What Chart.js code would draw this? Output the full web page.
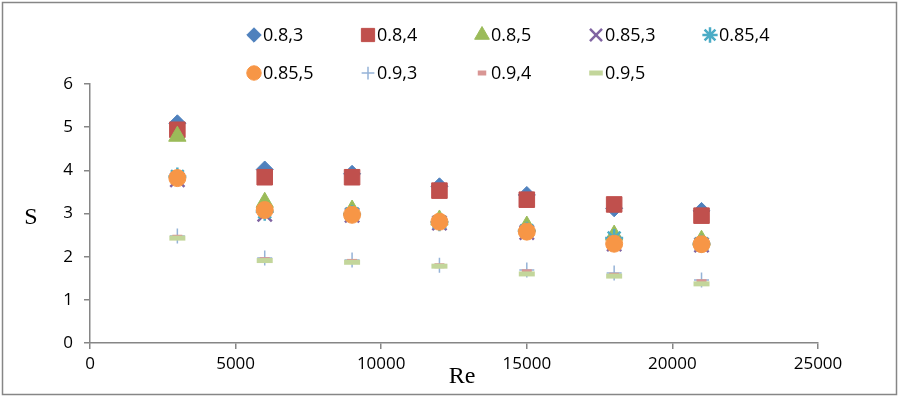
<!DOCTYPE html>
<html>
<head>
<meta charset="utf-8">
<script src="https://cdn.jsdelivr.net/npm/chart.js"></script>
<style>
  html, body { margin: 0; padding: 0; background: #fff; }
  #wrap { width: 900px; height: 398px; }
</style>
</head>
<body>
<div id="wrap"><canvas id="chart" width="900" height="398"></canvas></div>
<script>
const re = [3000, 6000, 9000, 12000, 15000, 18000, 21000];

const seriesNames = ['0.8,3', '0.8,4', '0.8,5', '0.85,3', '0.85,4', '0.85,5', '0.9,3', '0.9,4', '0.9,5'];

const s08x3 = [5.09, 4.02, 3.92, 3.63, 3.43, 3.12, 3.06];
const s08x4 = [4.94, 3.84, 3.84, 3.53, 3.32, 3.21, 2.95];
const s08x5 = [4.79, 3.26, 3.08, 2.85, 2.71, 2.50, 2.38];
const s085x3 = [3.78, 2.98, 2.96, 2.78, 2.56, 2.29, 2.27];
const s085x4 = [3.86, 3.04, 2.99, 2.80, 2.60, 2.43, 2.30];
const s085x5 = [3.82, 3.08, 2.97, 2.81, 2.58, 2.30, 2.29];
const s09x3 = [2.48, 1.97, 1.92, 1.80, 1.69, 1.62, 1.46];
const s09x4 = [2.45, 1.93, 1.89, 1.79, 1.65, 1.57, 1.42];
const s09x5 = [2.43, 1.91, 1.87, 1.78, 1.60, 1.55, 1.37];

const seriesValues = [s08x3, s08x4, s08x5, s085x3, s085x4, s085x5, s09x3, s09x4, s09x5];

const xTicks = [0, 5000, 10000, 15000, 20000, 25000];
const yTicks = [0, 1, 2, 3, 4, 5, 6];

// marker look for each series, Excel 2010 style
const markers = [
  { style: 'rectRot', radius: 8.5, color: '#4F81BD', width: 1 },
  { style: 'rect', radius: 11, color: '#C0504D', width: 1 },
  { style: 'triangle', radius: 10, color: '#9BBB59', width: 1 },
  { style: 'crossRot', radius: 10, color: '#8064A2', width: 2.5 },
  { style: 'star', radius: 9, color: '#4BACC6', width: 2.5 },
  { style: 'circle', radius: 8.5, color: '#F79646', width: 1 },
  { style: 'cross', radius: 7.5, color: '#95B3D7', width: 1.5 },
  { style: 'line', radius: 5, color: '#D99694', width: 5 },
  { style: 'line', radius: 8, color: '#C3D69B', width: 5 },
];

const AXIS_COLOR = '#868686';
const TICK_FONT = { family: 'Open Sans', size: 17 };

function buildDatasets() {
  return seriesNames.map((name, i) => ({
    label: name,
    data: re.map((x, k) => ({ x, y: seriesValues[i][k] })),
    showLine: false,
    pointStyle: markers[i].style,
    pointRadius: markers[i].radius,
    pointHoverRadius: markers[i].radius,
    pointBackgroundColor: markers[i].color,
    pointBorderColor: markers[i].color,
    pointBorderWidth: markers[i].width,
    order: seriesNames.length - i,
  }));
}

const legendPlugin = {
  id: 'columnLegend',
  afterDraw(chart) {
    const { ctx } = chart;
    ctx.save();
    ctx.font = '18px "Open Sans"';
    ctx.textBaseline = 'middle';
    seriesNames.forEach((name, i) => {
      const col = i % 5;
      const row = Math.floor(i / 5);
      const x = 254 + col * 114;
      const y = 35 + row * 38;
      const m = markers[i];
      ctx.fillStyle = m.color;
      ctx.strokeStyle = m.color;
      ctx.lineWidth = m.width;
      Chart.helpers.drawPoint(ctx, {
        pointStyle: m.style,
        radius: m.radius * 0.85,
        rotation: 0,
        borderWidth: m.width,
      }, x, y);
      ctx.fillStyle = '#000';
      ctx.fillText(name, x + 9, y + 1);
    });
    ctx.restore();
  },
};

const framePlugin = {
  id: 'frameAndTitles',
  afterDraw(chart) {
    const { ctx } = chart;
    ctx.save();
    ctx.strokeStyle = AXIS_COLOR;
    ctx.lineWidth = 1.5;
    ctx.strokeRect(2.5, 2.5, 894, 392);

    ctx.fillStyle = '#000';
    ctx.font = '24px "Liberation Serif"';
    ctx.textAlign = 'center';
    ctx.textBaseline = 'middle';
    ctx.fillText('S', 31, 218);
    ctx.fillText('Re', 462, 377);
    ctx.restore();
  },
};

const chart = new Chart(document.getElementById('chart').getContext('2d'), {
  type: 'scatter',
  data: { datasets: buildDatasets() },
  plugins: [legendPlugin, framePlugin],
  options: {
    responsive: false,
    animation: false,
    layout: { padding: { top: 84, left: 0, right: 82, bottom: 0 } },
    plugins: {
      legend: { display: false },
      tooltip: { enabled: false },
    },
    scales: {
      x: {
        type: 'linear',
        min: xTicks[0],
        max: xTicks[xTicks.length - 1],
        afterBuildTicks(scale) {
          scale.ticks = xTicks.map((v) => ({ value: v }));
        },
        afterFit(scale) {
          scale.height = 55;
        },
        ticks: {
          color: '#000',
          font: TICK_FONT,
          padding: 5,
          maxRotation: 0,
          callback: (v) => String(v),
        },
        grid: { drawOnChartArea: false, color: AXIS_COLOR, tickLength: 6, lineWidth: 1.5 },
        border: { color: AXIS_COLOR, width: 1.5 },
      },
      y: {
        min: yTicks[0],
        max: yTicks[yTicks.length - 1],
        afterBuildTicks(scale) {
          scale.ticks = yTicks.map((v) => ({ value: v }));
        },
        afterFit(scale) {
          scale.width = 90;
        },
        ticks: {
          color: '#000',
          font: TICK_FONT,
          padding: 11,
        },
        grid: { drawOnChartArea: false, color: AXIS_COLOR, tickLength: 6, lineWidth: 1.5 },
        border: { color: AXIS_COLOR, width: 1.5 },
      },
    },
  },
});
</script>
</body>
</html>
